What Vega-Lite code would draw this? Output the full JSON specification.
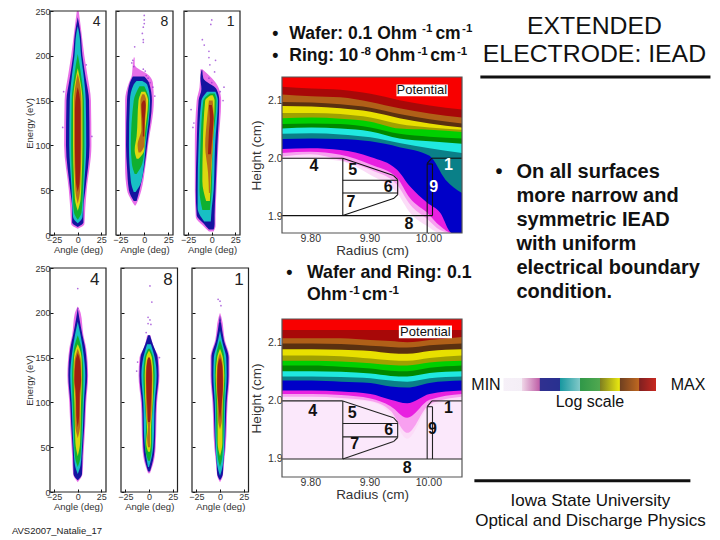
{
  "$schema": "https://vega.github.io/schema/vega-lite/v6.json",
  "width": 720,
  "height": 540,
  "padding": 0,
  "autosize": {"type": "none"},
  "background": "white",
  "config": {
    "view": {"stroke": null},
    "font": "Liberation Sans",
    "text": {"baseline": "middle"},
    "axis": {"grid": false, "labelColor": "#333", "titleColor": "#333", "tickColor": "#111", "domain": false, "labelFontSize": 9, "titleFontSize": 9.5, "titleFontWeight": "normal", "tickSize": -3, "labelPadding": 3, "titlePadding": 0}
  },
  "data": {"values": [{"k": 0}]},
  "datasets": {
    "iead": [
      {"p":"A","l":"p","e":7,"a":0,"b":0},{"p":"A","l":"p","e":12,"a":-7,"b":7},{"p":"A","l":"p","e":30,"a":-8,"b":8},{"p":"A","l":"p","e":50,"a":-9.5,"b":9.5},{"p":"A","l":"p","e":100,"a":-14.5,"b":14.5},{"p":"A","l":"p","e":150,"a":-14,"b":14},{"p":"A","l":"p","e":180,"a":-10,"b":10},{"p":"A","l":"p","e":200,"a":-7,"b":7},{"p":"A","l":"p","e":230,"a":-3.5,"b":3.5},{"p":"A","l":"p","e":250,"a":-1,"b":1},
      {"p":"A","l":"b","e":9,"a":0,"b":0},{"p":"A","l":"b","e":14,"a":-6,"b":6},{"p":"A","l":"b","e":30,"a":-6,"b":6},{"p":"A","l":"b","e":50,"a":-8,"b":8},{"p":"A","l":"b","e":100,"a":-12.5,"b":12.5},{"p":"A","l":"b","e":150,"a":-12,"b":12},{"p":"A","l":"b","e":175,"a":-8.5,"b":8.5},{"p":"A","l":"b","e":200,"a":-5,"b":5},{"p":"A","l":"b","e":225,"a":-3,"b":3},{"p":"A","l":"b","e":243,"a":0,"b":0},
      {"p":"A","l":"c","e":13,"a":0,"b":0},{"p":"A","l":"c","e":20,"a":-5,"b":5},{"p":"A","l":"c","e":50,"a":-6.5,"b":6.5},{"p":"A","l":"c","e":100,"a":-9,"b":9},{"p":"A","l":"c","e":150,"a":-8.5,"b":8.5},{"p":"A","l":"c","e":180,"a":-6,"b":6},{"p":"A","l":"c","e":200,"a":-3.5,"b":3.5},{"p":"A","l":"c","e":225,"a":-1.5,"b":1.5},{"p":"A","l":"c","e":233,"a":0,"b":0},
      {"p":"A","l":"g","e":17,"a":0,"b":0},{"p":"A","l":"g","e":25,"a":-4,"b":4},{"p":"A","l":"g","e":50,"a":-5.5,"b":5.5},{"p":"A","l":"g","e":100,"a":-7,"b":7},{"p":"A","l":"g","e":150,"a":-6.5,"b":6.5},{"p":"A","l":"g","e":175,"a":-4,"b":4},{"p":"A","l":"g","e":190,"a":-2,"b":2},{"p":"A","l":"g","e":202,"a":0,"b":0},
      {"p":"A","l":"y","e":27,"a":0,"b":0},{"p":"A","l":"y","e":40,"a":-3,"b":3},{"p":"A","l":"y","e":60,"a":-4,"b":4},{"p":"A","l":"y","e":100,"a":-5,"b":5},{"p":"A","l":"y","e":150,"a":-5,"b":5},{"p":"A","l":"y","e":170,"a":-3,"b":3},{"p":"A","l":"y","e":186,"a":0,"b":0},
      {"p":"A","l":"o","e":35,"a":0,"b":0},{"p":"A","l":"o","e":50,"a":-2.5,"b":2.5},{"p":"A","l":"o","e":100,"a":-3.8,"b":3.8},{"p":"A","l":"o","e":150,"a":-3.8,"b":3.8},{"p":"A","l":"o","e":170,"a":-2,"b":2},{"p":"A","l":"o","e":180,"a":0,"b":0},
      {"p":"A","l":"r","e":48,"a":0,"b":0},{"p":"A","l":"r","e":60,"a":-2,"b":2},{"p":"A","l":"r","e":100,"a":-3,"b":3},{"p":"A","l":"r","e":140,"a":-3,"b":3},{"p":"A","l":"r","e":158,"a":-1.5,"b":1.5},{"p":"A","l":"r","e":165,"a":0,"b":0},

      {"p":"B","l":"p","e":33,"a":-10,"b":-9},{"p":"B","l":"p","e":40,"a":-14,"b":-6},{"p":"B","l":"p","e":50,"a":-18,"b":-3},{"p":"B","l":"p","e":75,"a":-20,"b":1},{"p":"B","l":"p","e":100,"a":-20,"b":4},{"p":"B","l":"p","e":150,"a":-20,"b":10},{"p":"B","l":"p","e":170,"a":-16,"b":9},{"p":"B","l":"p","e":178,"a":-13,"b":5},{"p":"B","l":"p","e":190,"a":-12,"b":-10},{"p":"B","l":"p","e":198,"a":-11,"b":-10},
      {"p":"B","l":"b","e":38,"a":-11,"b":-8},{"p":"B","l":"b","e":50,"a":-16,"b":-5},{"p":"B","l":"b","e":75,"a":-18,"b":0},{"p":"B","l":"b","e":100,"a":-19,"b":3},{"p":"B","l":"b","e":150,"a":-18,"b":8},{"p":"B","l":"b","e":170,"a":-15,"b":5},{"p":"B","l":"b","e":177,"a":-12,"b":0},
      {"p":"B","l":"c","e":48,"a":-11,"b":-9},{"p":"B","l":"c","e":60,"a":-14,"b":-3},{"p":"B","l":"c","e":100,"a":-16,"b":1.5},{"p":"B","l":"c","e":150,"a":-15,"b":6},{"p":"B","l":"c","e":168,"a":-11,"b":3},{"p":"B","l":"c","e":172,"a":-8,"b":-2},
      {"p":"B","l":"g","e":68,"a":-10,"b":-8},{"p":"B","l":"g","e":80,"a":-13,"b":-2},{"p":"B","l":"g","e":100,"a":-14,"b":0.5},{"p":"B","l":"g","e":150,"a":-11,"b":5},{"p":"B","l":"g","e":166,"a":-5,"b":0},
      {"p":"B","l":"y","e":85,"a":-8,"b":-6},{"p":"B","l":"y","e":95,"a":-10,"b":0},{"p":"B","l":"y","e":110,"a":-8,"b":0.5},{"p":"B","l":"y","e":150,"a":-6,"b":4},{"p":"B","l":"y","e":160,"a":-3,"b":1},
      {"p":"B","l":"o","e":92,"a":-6,"b":-4},{"p":"B","l":"o","e":100,"a":-7,"b":0},{"p":"B","l":"o","e":118,"a":-3,"b":0.5},{"p":"B","l":"o","e":150,"a":-4,"b":2},{"p":"B","l":"o","e":157,"a":-2,"b":0},
      {"p":"B","l":"r","e":110,"a":-1.5,"b":0},{"p":"B","l":"r","e":128,"a":-2,"b":0.5},{"p":"B","l":"r","e":145,"a":-3,"b":1.5},{"p":"B","l":"r","e":150,"a":-1,"b":0.5},

      {"p":"C","l":"p","e":4,"a":-3,"b":2},{"p":"C","l":"p","e":10,"a":-9,"b":4},{"p":"C","l":"p","e":20,"a":-17,"b":4},{"p":"C","l":"p","e":50,"a":-18,"b":5},{"p":"C","l":"p","e":100,"a":-18,"b":7},{"p":"C","l":"p","e":150,"a":-16,"b":10},{"p":"C","l":"p","e":165,"a":-13,"b":7},{"p":"C","l":"p","e":185,"a":-12,"b":-10},
      {"p":"C","l":"b","e":6,"a":-3,"b":2},{"p":"C","l":"b","e":12,"a":-8,"b":3},{"p":"C","l":"b","e":22,"a":-16,"b":3},{"p":"C","l":"b","e":50,"a":-17,"b":4},{"p":"C","l":"b","e":100,"a":-16,"b":6},{"p":"C","l":"b","e":150,"a":-14,"b":8},{"p":"C","l":"b","e":163,"a":-11,"b":5},{"p":"C","l":"b","e":175,"a":-12,"b":-9},{"p":"C","l":"b","e":184,"a":-11,"b":-10},
      {"p":"C","l":"c","e":15,"a":-8,"b":-1},{"p":"C","l":"c","e":30,"a":-15,"b":0},{"p":"C","l":"c","e":50,"a":-15,"b":2},{"p":"C","l":"c","e":100,"a":-14,"b":3.5},{"p":"C","l":"c","e":150,"a":-11,"b":6.5},{"p":"C","l":"c","e":160,"a":-5,"b":4},
      {"p":"C","l":"g","e":28,"a":-10,"b":-2},{"p":"C","l":"g","e":50,"a":-13,"b":0},{"p":"C","l":"g","e":100,"a":-12,"b":1},{"p":"C","l":"g","e":150,"a":-9,"b":5},{"p":"C","l":"g","e":158,"a":-2,"b":3},
      {"p":"C","l":"y","e":38,"a":-6,"b":-2},{"p":"C","l":"y","e":60,"a":-10,"b":-1},{"p":"C","l":"y","e":100,"a":-9.5,"b":1},{"p":"C","l":"y","e":150,"a":-7,"b":3},{"p":"C","l":"y","e":156,"a":-1,"b":1},
      {"p":"C","l":"o","e":47,"a":-3,"b":-2},{"p":"C","l":"o","e":70,"a":-4,"b":-1},{"p":"C","l":"o","e":100,"a":-7,"b":1},{"p":"C","l":"o","e":130,"a":-5,"b":2},{"p":"C","l":"o","e":150,"a":-3,"b":1},
      {"p":"C","l":"r","e":90,"a":-4,"b":-1},{"p":"C","l":"r","e":115,"a":-3,"b":1},{"p":"C","l":"r","e":130,"a":-2,"b":2},{"p":"C","l":"r","e":145,"a":-3,"b":0},

      {"p":"D","l":"p","e":11,"a":0,"b":0},{"p":"D","l":"p","e":20,"a":-5,"b":5},{"p":"D","l":"p","e":40,"a":-6,"b":6},{"p":"D","l":"p","e":75,"a":-8,"b":8},{"p":"D","l":"p","e":100,"a":-9,"b":9},{"p":"D","l":"p","e":130,"a":-11,"b":11},{"p":"D","l":"p","e":160,"a":-9,"b":9},{"p":"D","l":"p","e":175,"a":-6,"b":6},{"p":"D","l":"p","e":200,"a":-3,"b":3},{"p":"D","l":"p","e":207,"a":0,"b":0},
      {"p":"D","l":"b","e":13,"a":0,"b":0},{"p":"D","l":"b","e":20,"a":-4.5,"b":4.5},{"p":"D","l":"b","e":40,"a":-5,"b":5},{"p":"D","l":"b","e":75,"a":-7,"b":7},{"p":"D","l":"b","e":100,"a":-8,"b":8},{"p":"D","l":"b","e":130,"a":-10,"b":10},{"p":"D","l":"b","e":160,"a":-8,"b":8},{"p":"D","l":"b","e":175,"a":-5,"b":5},{"p":"D","l":"b","e":195,"a":-1.5,"b":1.5},{"p":"D","l":"b","e":205,"a":0,"b":0},
      {"p":"D","l":"c","e":20,"a":0,"b":0},{"p":"D","l":"c","e":30,"a":-3,"b":3},{"p":"D","l":"c","e":50,"a":-4.5,"b":4.5},{"p":"D","l":"c","e":100,"a":-6.5,"b":6.5},{"p":"D","l":"c","e":130,"a":-8,"b":8},{"p":"D","l":"c","e":155,"a":-6,"b":6},{"p":"D","l":"c","e":175,"a":-3,"b":3},{"p":"D","l":"c","e":190,"a":0,"b":0},
      {"p":"D","l":"g","e":28,"a":0,"b":0},{"p":"D","l":"g","e":40,"a":-3,"b":3},{"p":"D","l":"g","e":75,"a":-4.5,"b":4.5},{"p":"D","l":"g","e":130,"a":-6,"b":6},{"p":"D","l":"g","e":150,"a":-5,"b":5},{"p":"D","l":"g","e":165,"a":-3,"b":3},{"p":"D","l":"g","e":175,"a":0,"b":0},
      {"p":"D","l":"y","e":40,"a":0,"b":0},{"p":"D","l":"y","e":55,"a":-2.5,"b":2.5},{"p":"D","l":"y","e":100,"a":-3.5,"b":3.5},{"p":"D","l":"y","e":130,"a":-4.5,"b":4.5},{"p":"D","l":"y","e":150,"a":-4,"b":4},{"p":"D","l":"y","e":160,"a":-2,"b":2},{"p":"D","l":"y","e":165,"a":0,"b":0},
      {"p":"D","l":"o","e":60,"a":0,"b":0},{"p":"D","l":"o","e":75,"a":-2.5,"b":2.5},{"p":"D","l":"o","e":100,"a":-2.5,"b":2.5},{"p":"D","l":"o","e":125,"a":-4,"b":4},{"p":"D","l":"o","e":145,"a":-3.5,"b":3.5},{"p":"D","l":"o","e":160,"a":0,"b":0},
      {"p":"D","l":"r","e":72,"a":0,"b":0},{"p":"D","l":"r","e":85,"a":-1.5,"b":1.5},{"p":"D","l":"r","e":110,"a":-2,"b":2},{"p":"D","l":"r","e":125,"a":-3.5,"b":3.5},{"p":"D","l":"r","e":145,"a":-2.5,"b":2.5},{"p":"D","l":"r","e":155,"a":0,"b":0},

      {"p":"E","l":"p","e":21,"a":-1,"b":1},{"p":"E","l":"p","e":30,"a":-4,"b":4},{"p":"E","l":"p","e":50,"a":-7,"b":7},{"p":"E","l":"p","e":100,"a":-8.5,"b":8.5},{"p":"E","l":"p","e":130,"a":-11,"b":11},{"p":"E","l":"p","e":150,"a":-10,"b":10},{"p":"E","l":"p","e":162,"a":-5,"b":5},{"p":"E","l":"p","e":175,"a":-2,"b":1.5},
      {"p":"E","l":"b","e":23,"a":-1,"b":1},{"p":"E","l":"b","e":30,"a":-3,"b":3},{"p":"E","l":"b","e":50,"a":-6,"b":6},{"p":"E","l":"b","e":100,"a":-7.5,"b":7.5},{"p":"E","l":"b","e":130,"a":-10,"b":10},{"p":"E","l":"b","e":150,"a":-9,"b":9},{"p":"E","l":"b","e":165,"a":-4,"b":4},{"p":"E","l":"b","e":175,"a":-1,"b":1},
      {"p":"E","l":"c","e":28,"a":-1,"b":0},{"p":"E","l":"c","e":40,"a":-3,"b":3},{"p":"E","l":"c","e":60,"a":-5,"b":5},{"p":"E","l":"c","e":100,"a":-6,"b":6},{"p":"E","l":"c","e":130,"a":-8,"b":8},{"p":"E","l":"c","e":150,"a":-6,"b":6},{"p":"E","l":"c","e":165,"a":-2,"b":2},
      {"p":"E","l":"g","e":35,"a":-1,"b":1},{"p":"E","l":"g","e":50,"a":-4,"b":3},{"p":"E","l":"g","e":75,"a":-3,"b":3},{"p":"E","l":"g","e":100,"a":-4.5,"b":4.5},{"p":"E","l":"g","e":130,"a":-6,"b":6},{"p":"E","l":"g","e":150,"a":-4.5,"b":4.5},{"p":"E","l":"g","e":160,"a":-1,"b":1},
      {"p":"E","l":"y","e":45,"a":-1,"b":1},{"p":"E","l":"y","e":55,"a":-3,"b":2},{"p":"E","l":"y","e":70,"a":-2,"b":2},{"p":"E","l":"y","e":85,"a":-3,"b":3},{"p":"E","l":"y","e":130,"a":-4.5,"b":4.5},{"p":"E","l":"y","e":150,"a":-3,"b":3},{"p":"E","l":"y","e":158,"a":0,"b":0},
      {"p":"E","l":"o","e":50,"a":-1,"b":1},{"p":"E","l":"o","e":60,"a":-2,"b":1},{"p":"E","l":"o","e":72,"a":-1,"b":1},{"p":"E","l":"o","e":85,"a":-2.5,"b":2.5},{"p":"E","l":"o","e":130,"a":-3.5,"b":3.5},{"p":"E","l":"o","e":148,"a":-2,"b":2},
      {"p":"E","l":"r","e":78,"a":-1,"b":1},{"p":"E","l":"r","e":100,"a":-2,"b":2},{"p":"E","l":"r","e":125,"a":-3,"b":3},{"p":"E","l":"r","e":140,"a":-2.5,"b":2.5},{"p":"E","l":"r","e":150,"a":-1,"b":1},

      {"p":"F","l":"p","e":11,"a":0,"b":0},{"p":"F","l":"p","e":18,"a":-3,"b":3},{"p":"F","l":"p","e":30,"a":-4,"b":4},{"p":"F","l":"p","e":50,"a":-6,"b":6},{"p":"F","l":"p","e":100,"a":-8,"b":8},{"p":"F","l":"p","e":130,"a":-10,"b":10},{"p":"F","l":"p","e":150,"a":-10,"b":10},{"p":"F","l":"p","e":170,"a":-5,"b":5},{"p":"F","l":"p","e":195,"a":-1.5,"b":1.5},{"p":"F","l":"p","e":200,"a":0,"b":0},
      {"p":"F","l":"b","e":13,"a":0,"b":0},{"p":"F","l":"b","e":20,"a":-3,"b":3},{"p":"F","l":"b","e":30,"a":-3.5,"b":3.5},{"p":"F","l":"b","e":50,"a":-5,"b":5},{"p":"F","l":"b","e":100,"a":-7,"b":7},{"p":"F","l":"b","e":130,"a":-9,"b":9},{"p":"F","l":"b","e":150,"a":-9,"b":9},{"p":"F","l":"b","e":170,"a":-4,"b":4},{"p":"F","l":"b","e":190,"a":-1,"b":1},{"p":"F","l":"b","e":197,"a":0,"b":0},
      {"p":"F","l":"c","e":18,"a":0,"b":0},{"p":"F","l":"c","e":30,"a":-3,"b":3},{"p":"F","l":"c","e":50,"a":-4.5,"b":4.5},{"p":"F","l":"c","e":100,"a":-5.5,"b":5.5},{"p":"F","l":"c","e":130,"a":-7,"b":7},{"p":"F","l":"c","e":150,"a":-6.5,"b":6.5},{"p":"F","l":"c","e":165,"a":-3,"b":3},{"p":"F","l":"c","e":180,"a":0,"b":0},
      {"p":"F","l":"g","e":28,"a":0,"b":0},{"p":"F","l":"g","e":40,"a":-2.5,"b":2.5},{"p":"F","l":"g","e":75,"a":-4,"b":4},{"p":"F","l":"g","e":100,"a":-4.5,"b":4.5},{"p":"F","l":"g","e":130,"a":-5.5,"b":5.5},{"p":"F","l":"g","e":150,"a":-4.5,"b":4.5},{"p":"F","l":"g","e":165,"a":-1.5,"b":1.5},{"p":"F","l":"g","e":170,"a":0,"b":0},
      {"p":"F","l":"y","e":40,"a":0,"b":0},{"p":"F","l":"y","e":55,"a":-2.5,"b":2.5},{"p":"F","l":"y","e":75,"a":-2.5,"b":2.5},{"p":"F","l":"y","e":100,"a":-3,"b":3},{"p":"F","l":"y","e":130,"a":-4.5,"b":4.5},{"p":"F","l":"y","e":150,"a":-3,"b":3},{"p":"F","l":"y","e":160,"a":0,"b":0},
      {"p":"F","l":"o","e":70,"a":0,"b":0},{"p":"F","l":"o","e":80,"a":-2,"b":2},{"p":"F","l":"o","e":100,"a":-2.5,"b":2.5},{"p":"F","l":"o","e":125,"a":-3.5,"b":3.5},{"p":"F","l":"o","e":145,"a":-2.5,"b":2.5},{"p":"F","l":"o","e":155,"a":0,"b":0},
      {"p":"F","l":"r","e":80,"a":0,"b":0},{"p":"F","l":"r","e":95,"a":-1.5,"b":1.5},{"p":"F","l":"r","e":120,"a":-3,"b":3},{"p":"F","l":"r","e":140,"a":-2.5,"b":2.5},{"p":"F","l":"r","e":150,"a":0,"b":0}
    ],
    "speck": [
      {"p":"A","e":160,"a":-15},{"p":"A","e":120,"a":-16},{"p":"A","e":110,"a":15},{"p":"A","e":190,"a":9},
      {"p":"B","e":195,"a":-12},{"p":"B","e":192,"a":-13},{"p":"B","e":188,"a":-11},{"p":"B","e":185,"a":-1},{"p":"B","e":183,"a":1},{"p":"B","e":178,"a":2},{"p":"B","e":175,"a":4},{"p":"B","e":170,"a":6},{"p":"B","e":165,"a":9},{"p":"B","e":155,"a":11},{"p":"B","e":218,"a":-1},{"p":"B","e":215,"a":-1},{"p":"B","e":232,"a":-1},{"p":"B","e":240,"a":0},{"p":"B","e":245,"a":0},{"p":"B","e":236,"a":0},{"p":"B","e":225,"a":-2},{"p":"B","e":210,"a":-10},
      {"p":"C","e":218,"a":-10},{"p":"C","e":212,"a":-8},{"p":"C","e":205,"a":-3},{"p":"C","e":198,"a":-3},{"p":"C","e":190,"a":-2},{"p":"C","e":175,"a":-3},{"p":"C","e":170,"a":0},{"p":"C","e":160,"a":9},{"p":"C","e":150,"a":12},{"p":"C","e":140,"a":-22},{"p":"C","e":125,"a":-19},{"p":"C","e":120,"a":-20},{"p":"C","e":165,"a":13},{"p":"C","e":240,"a":0},{"p":"C","e":235,"a":-1},{"p":"C","e":195,"a":4},{"p":"C","e":182,"a":3},
      {"p":"D","e":227,"a":0},{"p":"D","e":205,"a":0},
      {"p":"E","e":230,"a":1},{"p":"E","e":212,"a":3},{"p":"E","e":195,"a":-1},{"p":"E","e":192,"a":1},{"p":"E","e":188,"a":-1},{"p":"E","e":187,"a":2},{"p":"E","e":178,"a":-3},{"p":"E","e":145,"a":-12},{"p":"E","e":135,"a":-13},{"p":"E","e":150,"a":11},
      {"p":"F","e":215,"a":-2},{"p":"F","e":213,"a":0},{"p":"F","e":208,"a":1},{"p":"F","e":190,"a":0}
    ],
    "tags": [
      {"p":"A","t":"4","a":20,"e":238},{"p":"B","t":"8","a":21,"e":238},{"p":"C","t":"1","a":20,"e":238},
      {"p":"D","t":"4","a":18,"e":237},{"p":"E","t":"8","a":20,"e":237},{"p":"F","t":"1","a":20,"e":237}
    ],
    "bands": [
      {"p":"T","b":"a","r":9.752,"h":2.14},{"p":"T","b":"a","r":10.057,"h":2.14},
      {"p":"T","b":"b","r":9.752,"h":2.123},{"p":"T","b":"b","r":9.802,"h":2.12},{"p":"T","b":"b","r":9.851,"h":2.118},{"p":"T","b":"b","r":9.902,"h":2.111},{"p":"T","b":"b","r":9.951,"h":2.1},{"p":"T","b":"b","r":10.002,"h":2.091},{"p":"T","b":"b","r":10.057,"h":2.084},
      {"p":"T","b":"c","r":9.752,"h":2.11},{"p":"T","b":"c","r":9.802,"h":2.107},{"p":"T","b":"c","r":9.851,"h":2.105},{"p":"T","b":"c","r":9.902,"h":2.097},{"p":"T","b":"c","r":9.951,"h":2.086},{"p":"T","b":"c","r":10.002,"h":2.077},{"p":"T","b":"c","r":10.057,"h":2.07},
      {"p":"T","b":"d","r":9.752,"h":2.097},{"p":"T","b":"d","r":9.802,"h":2.096},{"p":"T","b":"d","r":9.851,"h":2.093},{"p":"T","b":"d","r":9.902,"h":2.087},{"p":"T","b":"d","r":9.951,"h":2.076},{"p":"T","b":"d","r":10.002,"h":2.067},{"p":"T","b":"d","r":10.057,"h":2.06},
      {"p":"T","b":"e","r":9.752,"h":2.09},{"p":"T","b":"e","r":9.802,"h":2.089},{"p":"T","b":"e","r":9.851,"h":2.086},{"p":"T","b":"e","r":9.902,"h":2.08},{"p":"T","b":"e","r":9.951,"h":2.069},{"p":"T","b":"e","r":10.002,"h":2.06},{"p":"T","b":"e","r":10.057,"h":2.053},
      {"p":"T","b":"f","r":9.752,"h":2.078},{"p":"T","b":"f","r":9.802,"h":2.078},{"p":"T","b":"f","r":9.851,"h":2.076},{"p":"T","b":"f","r":9.902,"h":2.07},{"p":"T","b":"f","r":9.951,"h":2.059},{"p":"T","b":"f","r":10.002,"h":2.053},{"p":"T","b":"f","r":10.057,"h":2.049},
      {"p":"T","b":"g","r":9.752,"h":2.069},{"p":"T","b":"g","r":9.802,"h":2.07},{"p":"T","b":"g","r":9.851,"h":2.068},{"p":"T","b":"g","r":9.902,"h":2.063},{"p":"T","b":"g","r":9.951,"h":2.051},{"p":"T","b":"g","r":10.002,"h":2.049},{"p":"T","b":"g","r":10.057,"h":2.045},
      {"p":"T","b":"h","r":9.752,"h":2.059},{"p":"T","b":"h","r":9.802,"h":2.06},{"p":"T","b":"h","r":9.851,"h":2.059},{"p":"T","b":"h","r":9.902,"h":2.053},{"p":"T","b":"h","r":9.951,"h":2.042},{"p":"T","b":"h","r":10.002,"h":2.037},{"p":"T","b":"h","r":10.057,"h":2.034},
      {"p":"T","b":"i","r":9.752,"h":2.051},{"p":"T","b":"i","r":9.802,"h":2.053},{"p":"T","b":"i","r":9.851,"h":2.051},{"p":"T","b":"i","r":9.902,"h":2.046},{"p":"T","b":"i","r":9.951,"h":2.034},{"p":"T","b":"i","r":10.002,"h":2.029},{"p":"T","b":"i","r":10.057,"h":2.025},
      {"p":"T","b":"j","r":9.752,"h":2.042},{"p":"T","b":"j","r":9.802,"h":2.043},{"p":"T","b":"j","r":9.851,"h":2.041},{"p":"T","b":"j","r":9.902,"h":2.036},{"p":"T","b":"j","r":9.951,"h":2.026},{"p":"T","b":"j","r":10.002,"h":2.017},{"p":"T","b":"j","r":10.057,"h":2.009},
      {"p":"T","b":"k","r":9.752,"h":2.033},{"p":"T","b":"k","r":9.802,"h":2.034},{"p":"T","b":"k","r":9.851,"h":2.033},{"p":"T","b":"k","r":9.902,"h":2.029},{"p":"T","b":"k","r":9.951,"h":2.019},{"p":"T","b":"k","r":10.002,"h":2.004},{"p":"T","b":"k","r":10.029,"h":1.963},{"p":"T","b":"k","r":10.057,"h":1.94},
      {"p":"T","b":"l","r":9.752,"h":2.016},{"p":"T","b":"l","r":9.8,"h":2.017},{"p":"T","b":"l","r":9.851,"h":2.014},{"p":"T","b":"l","r":9.902,"h":2.002},{"p":"T","b":"l","r":9.947,"h":1.98},{"p":"T","b":"l","r":9.969,"h":1.951},{"p":"T","b":"l","r":9.998,"h":1.923},{"p":"T","b":"l","r":10.02,"h":1.906},{"p":"T","b":"l","r":10.04,"h":1.871},{"p":"T","b":"l","r":10.057,"h":1.871},
      {"p":"T","b":"m","r":9.752,"h":2.009},{"p":"T","b":"m","r":9.8,"h":2.011},{"p":"T","b":"m","r":9.851,"h":2.006},{"p":"T","b":"m","r":9.902,"h":1.989},{"p":"T","b":"m","r":9.947,"h":1.966},{"p":"T","b":"m","r":9.969,"h":1.931},{"p":"T","b":"m","r":9.998,"h":1.906},{"p":"T","b":"m","r":10.02,"h":1.883},{"p":"T","b":"m","r":10.04,"h":1.871},{"p":"T","b":"m","r":10.057,"h":1.871},
      {"p":"T","b":"n","r":9.752,"h":2.003},{"p":"T","b":"n","r":9.8,"h":2.007},{"p":"T","b":"n","r":9.851,"h":1.997},{"p":"T","b":"n","r":9.902,"h":1.98},{"p":"T","b":"n","r":9.947,"h":1.954},{"p":"T","b":"n","r":9.969,"h":1.92},{"p":"T","b":"n","r":9.998,"h":1.895},{"p":"T","b":"n","r":10.02,"h":1.876},{"p":"T","b":"n","r":10.04,"h":1.871},{"p":"T","b":"n","r":10.057,"h":1.871},
      {"p":"T","b":"p","r":9.752,"h":2.0},{"p":"T","b":"p","r":9.8,"h":2.0},{"p":"T","b":"p","r":9.851,"h":1.995},{"p":"T","b":"p","r":9.902,"h":1.971},{"p":"T","b":"p","r":9.947,"h":1.94},{"p":"T","b":"p","r":9.969,"h":1.906},{"p":"T","b":"p","r":9.998,"h":1.883},{"p":"T","b":"p","r":10.02,"h":1.871},{"p":"T","b":"p","r":10.057,"h":1.871},

      {"p":"B","b":"a","r":9.752,"h":2.141},{"p":"B","b":"a","r":10.057,"h":2.141},
      {"p":"B","b":"b","r":9.752,"h":2.122},{"p":"B","b":"b","r":10.057,"h":2.122},
      {"p":"B","b":"c","r":9.752,"h":2.108},{"p":"B","b":"c","r":9.802,"h":2.108},{"p":"B","b":"c","r":9.852,"h":2.108},{"p":"B","b":"c","r":9.902,"h":2.105},{"p":"B","b":"c","r":9.936,"h":2.103},{"p":"B","b":"c","r":9.964,"h":2.101},{"p":"B","b":"c","r":10.002,"h":2.105},{"p":"B","b":"c","r":10.057,"h":2.11},
      {"p":"B","b":"d","r":9.752,"h":2.099},{"p":"B","b":"d","r":9.802,"h":2.099},{"p":"B","b":"d","r":9.852,"h":2.098},{"p":"B","b":"d","r":9.902,"h":2.095},{"p":"B","b":"d","r":9.936,"h":2.093},{"p":"B","b":"d","r":9.964,"h":2.092},{"p":"B","b":"d","r":10.002,"h":2.096},{"p":"B","b":"d","r":10.057,"h":2.099},
      {"p":"B","b":"e","r":9.752,"h":2.089},{"p":"B","b":"e","r":9.802,"h":2.089},{"p":"B","b":"e","r":9.852,"h":2.088},{"p":"B","b":"e","r":9.902,"h":2.086},{"p":"B","b":"e","r":9.936,"h":2.082},{"p":"B","b":"e","r":9.964,"h":2.081},{"p":"B","b":"e","r":10.002,"h":2.086},{"p":"B","b":"e","r":10.057,"h":2.089},
      {"p":"B","b":"f","r":9.752,"h":2.078},{"p":"B","b":"f","r":9.802,"h":2.078},{"p":"B","b":"f","r":9.852,"h":2.077},{"p":"B","b":"f","r":9.902,"h":2.073},{"p":"B","b":"f","r":9.936,"h":2.07},{"p":"B","b":"f","r":9.964,"h":2.069},{"p":"B","b":"f","r":10.002,"h":2.074},{"p":"B","b":"f","r":10.057,"h":2.078},
      {"p":"B","b":"g","r":9.752,"h":2.069},{"p":"B","b":"g","r":9.802,"h":2.069},{"p":"B","b":"g","r":9.852,"h":2.068},{"p":"B","b":"g","r":9.902,"h":2.065},{"p":"B","b":"g","r":9.936,"h":2.062},{"p":"B","b":"g","r":9.964,"h":2.061},{"p":"B","b":"g","r":10.002,"h":2.066},{"p":"B","b":"g","r":10.057,"h":2.069},
      {"p":"B","b":"h","r":9.752,"h":2.061},{"p":"B","b":"h","r":9.802,"h":2.061},{"p":"B","b":"h","r":9.852,"h":2.059},{"p":"B","b":"h","r":9.902,"h":2.056},{"p":"B","b":"h","r":9.936,"h":2.052},{"p":"B","b":"h","r":9.964,"h":2.051},{"p":"B","b":"h","r":10.002,"h":2.057},{"p":"B","b":"h","r":10.057,"h":2.061},
      {"p":"B","b":"i","r":9.752,"h":2.051},{"p":"B","b":"i","r":9.802,"h":2.051},{"p":"B","b":"i","r":9.852,"h":2.05},{"p":"B","b":"i","r":9.902,"h":2.047},{"p":"B","b":"i","r":9.936,"h":2.043},{"p":"B","b":"i","r":9.964,"h":2.042},{"p":"B","b":"i","r":10.002,"h":2.048},{"p":"B","b":"i","r":10.057,"h":2.051},
      {"p":"B","b":"j","r":9.752,"h":2.042},{"p":"B","b":"j","r":9.802,"h":2.042},{"p":"B","b":"j","r":9.852,"h":2.041},{"p":"B","b":"j","r":9.902,"h":2.039},{"p":"B","b":"j","r":9.936,"h":2.035},{"p":"B","b":"j","r":9.964,"h":2.033},{"p":"B","b":"j","r":10.002,"h":2.039},{"p":"B","b":"j","r":10.057,"h":2.042},
      {"p":"B","b":"k","r":9.752,"h":2.035},{"p":"B","b":"k","r":9.802,"h":2.035},{"p":"B","b":"k","r":9.852,"h":2.033},{"p":"B","b":"k","r":9.902,"h":2.031},{"p":"B","b":"k","r":9.936,"h":2.025},{"p":"B","b":"k","r":9.964,"h":2.023},{"p":"B","b":"k","r":10.002,"h":2.031},{"p":"B","b":"k","r":10.057,"h":2.035},
      {"p":"B","b":"l","r":9.752,"h":2.018},{"p":"B","b":"l","r":9.802,"h":2.018},{"p":"B","b":"l","r":9.852,"h":2.016},{"p":"B","b":"l","r":9.902,"h":2.012},{"p":"B","b":"l","r":9.936,"h":2.002},{"p":"B","b":"l","r":9.964,"h":1.996},{"p":"B","b":"l","r":10.002,"h":2.012},{"p":"B","b":"l","r":10.057,"h":2.018},
      {"p":"B","b":"m","r":9.752,"h":2.012},{"p":"B","b":"m","r":9.802,"h":2.012},{"p":"B","b":"m","r":9.852,"h":2.01},{"p":"B","b":"m","r":9.902,"h":2.004},{"p":"B","b":"m","r":9.936,"h":1.991},{"p":"B","b":"m","r":9.964,"h":1.971},{"p":"B","b":"m","r":10.002,"h":2.002},{"p":"B","b":"m","r":10.057,"h":2.012},
      {"p":"B","b":"n","r":9.752,"h":2.007},{"p":"B","b":"n","r":9.802,"h":2.007},{"p":"B","b":"n","r":9.852,"h":2.005},{"p":"B","b":"n","r":9.902,"h":2.0},{"p":"B","b":"n","r":9.936,"h":1.983},{"p":"B","b":"n","r":9.964,"h":1.945},{"p":"B","b":"n","r":10.002,"h":1.994},{"p":"B","b":"n","r":10.057,"h":2.007},
      {"p":"B","b":"o","r":9.752,"h":2.003},{"p":"B","b":"o","r":9.802,"h":2.003},{"p":"B","b":"o","r":9.852,"h":2.002},{"p":"B","b":"o","r":9.902,"h":1.998},{"p":"B","b":"o","r":9.936,"h":1.978},{"p":"B","b":"o","r":9.964,"h":1.935},{"p":"B","b":"o","r":10.002,"h":1.99},{"p":"B","b":"o","r":10.057,"h":2.003},
      {"p":"B","b":"p","r":9.752,"h":1.9},{"p":"B","b":"p","r":10.057,"h":1.9}
    ],
    "electrode": [
      {"p":"T","r":9.752,"r2":9.855,"h":2.0,"h2":2.0},{"p":"T","r":9.855,"r2":9.855,"h":2.0,"h2":1.901},{"p":"T","r":9.752,"r2":10.007,"h":1.901,"h2":1.901},
      {"p":"T","r":9.855,"r2":9.941,"h":2.0,"h2":1.97},{"p":"T","r":9.941,"r2":9.948,"h":1.97,"h2":1.963},{"p":"T","r":9.948,"r2":9.948,"h":1.963,"h2":1.937},{"p":"T","r":9.948,"r2":9.942,"h":1.937,"h2":1.931},{"p":"T","r":9.942,"r2":9.855,"h":1.931,"h2":1.901},
      {"p":"T","r":9.855,"r2":9.948,"h":1.962,"h2":1.962},{"p":"T","r":9.855,"r2":9.948,"h":1.94,"h2":1.94},
      {"p":"T","r":10.057,"r2":10.006,"h":2.0,"h2":2.0},{"p":"T","r":10.006,"r2":9.998,"h":2.0,"h2":1.991},{"p":"T","r":9.998,"r2":9.998,"h":1.991,"h2":1.871},
      {"p":"T","r":9.998,"r2":10.007,"h":1.99,"h2":1.99},{"p":"T","r":10.007,"r2":10.007,"h":1.99,"h2":1.901},
      {"p":"B","r":9.752,"r2":9.855,"h":2.0,"h2":2.0},{"p":"B","r":9.855,"r2":9.855,"h":2.0,"h2":1.9},{"p":"B","r":9.752,"r2":10.057,"h":1.9,"h2":1.9},
      {"p":"B","r":9.855,"r2":9.941,"h":2.0,"h2":1.971},{"p":"B","r":9.941,"r2":9.948,"h":1.971,"h2":1.963},{"p":"B","r":9.948,"r2":9.948,"h":1.963,"h2":1.937},{"p":"B","r":9.948,"r2":9.941,"h":1.937,"h2":1.93},{"p":"B","r":9.941,"r2":9.855,"h":1.93,"h2":1.9},
      {"p":"B","r":9.855,"r2":9.948,"h":1.961,"h2":1.961},{"p":"B","r":9.855,"r2":9.948,"h":1.938,"h2":1.938},
      {"p":"B","r":10.057,"r2":10.006,"h":2.0,"h2":2.0},{"p":"B","r":10.006,"r2":9.998,"h":2.0,"h2":1.99},{"p":"B","r":9.998,"r2":9.998,"h":1.99,"h2":1.9},
      {"p":"B","r":9.998,"r2":10.007,"h":1.99,"h2":1.99},{"p":"B","r":10.007,"r2":10.007,"h":1.99,"h2":1.9}
    ],
    "regions": [
      {"p":"T","t":"4","r":9.806,"h":1.986},{"p":"T","t":"5","r":9.872,"h":1.98},{"p":"T","t":"6","r":9.932,"h":1.951},{"p":"T","t":"7","r":9.869,"h":1.925},{"p":"T","t":"8","r":9.967,"h":1.887},{"p":"T","t":"9","r":10.009,"h":1.95},{"p":"T","t":"1","r":10.034,"h":1.989},
      {"p":"B","t":"4","r":9.804,"h":1.983},{"p":"B","t":"5","r":9.871,"h":1.98},{"p":"B","t":"6","r":9.933,"h":1.95},{"p":"B","t":"7","r":9.875,"h":1.926},{"p":"B","t":"8","r":9.964,"h":1.884},{"p":"B","t":"9","r":10.007,"h":1.951},{"p":"B","t":"1","r":10.034,"h":1.987}
    ],
    "notes": [
      {"g":"small","t":"•","r":9.7356,"h":2.2143},{"g":"small","t":"Wafer: 0.1 Ohm","r":9.7644,"h":2.2143},{"g":"sup","t":"-1","r":9.9893,"h":2.2224},{"g":"small","t":"cm","r":10.0119,"h":2.2143},{"g":"sup","t":"-1","r":10.0571,"h":2.2224},
      {"g":"small","t":"•","r":9.7356,"h":2.1755},{"g":"small","t":"Ring: 10","r":9.7644,"h":2.1755},{"g":"sup","t":"-8","r":9.8855,"h":2.1838},{"g":"small","t":"Ohm","r":9.9102,"h":2.1755},{"g":"sup","t":"-1","r":9.9814,"h":2.1838},{"g":"small","t":"cm","r":10.0034,"h":2.1755},{"g":"sup","t":"-1","r":10.0486,"h":2.1838},
      {"g":"mid","t":"•","r":9.7593,"h":1.8028},{"g":"mid","t":"Wafer and Ring: 0.1","r":9.7944,"h":1.8028},{"g":"mid","t":"Ohm","r":9.7944,"h":1.7643},{"g":"msup","t":"-1","r":9.8661,"h":1.7717},{"g":"mid","t":"cm","r":9.8876,"h":1.7643},{"g":"msup","t":"-1","r":9.9327,"h":1.7717},
      {"g":"title","t":"EXTENDED","r":10.2814,"h":2.2264},{"g":"title","t":"ELECTRODE: IEAD","r":10.2814,"h":2.1781},
      {"g":"body","t":"•","r":10.1136,"h":1.9764},{"g":"body","t":"On all surfaces","r":10.1492,"h":1.9764},{"g":"body","t":"more narrow and","r":10.1492,"h":1.935},{"g":"body","t":"symmetric IEAD","r":10.1492,"h":1.8936},{"g":"body","t":"with uniform","r":10.1492,"h":1.8522},{"g":"body","t":"electrical boundary","r":10.1492,"h":1.8109},{"g":"body","t":"condition.","r":10.1492,"h":1.7695},
      {"g":"foot","t":"Iowa State University","r":10.2746,"h":1.4091},{"g":"foot","t":"Optical and Discharge Physics","r":10.2746,"h":1.3746}
    ],
    "rules": [
      {"r":10.0881,"r2":10.478,"h":2.1402},{"r":10.078,"r2":10.444,"h":1.4436}
    ],
    "strip": [
      {"t":"MIN","s":-0.115,"v":0.46},{"t":"MAX","s":1.21,"v":0.46},{"t":"Log scale","s":0.567,"v":-0.85}
    ]
  },
  "resolve": {
    "scale": {"x": "independent", "y": "independent"},
    "axis": {"x": "independent", "y": "independent"}
  },
  "layer": [
    {
      "layer": [
        {
          "data": {"name": "iead"},
          "transform": [{"filter": "datum.p == 'A'"}],
          "mark": {"type": "area", "orient": "horizontal", "interpolate": "monotone"},
          "encoding": {
            "x": {"field": "a", "type": "quantitative", "scale": {"domain": [-29.5, 30], "range": [50, 106], "nice": false, "zero": false}, "axis": null},
            "x2": {"field": "b"},
            "y": {"field": "e", "type": "quantitative", "scale": {"domain": [0, 250], "range": [235, 11], "nice": false}, "axis": null},
            "fill": {"field": "l", "type": "nominal", "legend": null, "scale": {"domain": ["p", "b", "c", "g", "y", "o", "r"], "range": ["#e870e8", "#1414a0", "#18c0c4", "#10b030", "#dcd810", "#b87018", "#a02010"]}}
          }
        },
        {"data": {"name": "speck"}, "transform": [{"filter": "datum.p == 'A'"}], "mark": {"type": "circle", "size": 3, "color": "#9030d0"}, "encoding": {"x": {"field": "a", "type": "quantitative", "axis": null}, "y": {"field": "e", "type": "quantitative", "axis": null}}},
        {"data": {"name": "tags"}, "transform": [{"filter": "datum.p == 'A'"}], "mark": {"type": "text", "fontSize": 14, "color": "#222"}, "encoding": {"x": {"field": "a", "type": "quantitative", "axis": null}, "y": {"field": "e", "type": "quantitative", "axis": null}, "text": {"field": "t"}}}
      ]
    },
    {
      "mark": {"type": "rect", "fill": null, "stroke": "#222", "strokeWidth": 1.2},
      "encoding": {
        "x": {"datum": -29.5, "type": "quantitative", "scale": {"domain": [-29.5, 30], "range": [50, 106], "nice": false, "zero": false}, "axis": {"orient": "bottom", "offset": -305, "values": [-25, 0, 25], "title": "Angle (deg)"}},
        "x2": {"datum": 30},
        "y": {"datum": 0, "type": "quantitative", "scale": {"domain": [0, 250], "range": [235, 11], "nice": false}, "axis": {"orient": "left", "offset": -50, "values": [0, 50, 100, 150, 200, 250], "title": "Energy (eV)", "titlePadding": 0}},
        "y2": {"datum": 250}
      }
    },
    {
      "layer": [
        {
          "data": {"name": "iead"},
          "transform": [{"filter": "datum.p == 'B'"}],
          "mark": {"type": "area", "orient": "horizontal", "interpolate": "monotone"},
          "encoding": {
            "x": {"field": "a", "type": "quantitative", "scale": {"domain": [-29.5, 30], "range": [116, 173], "nice": false, "zero": false}, "axis": null},
            "x2": {"field": "b"},
            "y": {"field": "e", "type": "quantitative", "scale": {"domain": [0, 250], "range": [235, 11], "nice": false}, "axis": null},
            "fill": {"field": "l", "type": "nominal", "legend": null}
          }
        },
        {"data": {"name": "speck"}, "transform": [{"filter": "datum.p == 'B'"}], "mark": {"type": "circle", "size": 3, "color": "#9030d0"}, "encoding": {"x": {"field": "a", "type": "quantitative", "axis": null}, "y": {"field": "e", "type": "quantitative", "axis": null}}},
        {"data": {"name": "tags"}, "transform": [{"filter": "datum.p == 'B'"}], "mark": {"type": "text", "fontSize": 14, "color": "#222"}, "encoding": {"x": {"field": "a", "type": "quantitative", "axis": null}, "y": {"field": "e", "type": "quantitative", "axis": null}, "text": {"field": "t"}}}
      ]
    },
    {
      "mark": {"type": "rect", "fill": null, "stroke": "#222", "strokeWidth": 1.2},
      "encoding": {
        "x": {"datum": -29.5, "type": "quantitative", "scale": {"domain": [-29.5, 30], "range": [116, 173], "nice": false, "zero": false}, "axis": {"orient": "bottom", "offset": -305, "values": [-25, 0, 25], "title": "Angle (deg)"}},
        "x2": {"datum": 30},
        "y": {"datum": 0, "type": "quantitative", "scale": {"domain": [0, 250], "range": [235, 11], "nice": false}, "axis": {"orient": "left", "offset": -116, "values": [0, 50, 100, 150, 200, 250], "labels": false, "title": null}},
        "y2": {"datum": 250}
      }
    },
    {
      "layer": [
        {
          "data": {"name": "iead"},
          "transform": [{"filter": "datum.p == 'C'"}],
          "mark": {"type": "area", "orient": "horizontal", "interpolate": "monotone"},
          "encoding": {
            "x": {"field": "a", "type": "quantitative", "scale": {"domain": [-29.5, 30], "range": [184, 240], "nice": false, "zero": false}, "axis": null},
            "x2": {"field": "b"},
            "y": {"field": "e", "type": "quantitative", "scale": {"domain": [0, 250], "range": [235, 11], "nice": false}, "axis": null},
            "fill": {"field": "l", "type": "nominal", "legend": null}
          }
        },
        {"data": {"name": "speck"}, "transform": [{"filter": "datum.p == 'C'"}], "mark": {"type": "circle", "size": 3, "color": "#9030d0"}, "encoding": {"x": {"field": "a", "type": "quantitative", "axis": null}, "y": {"field": "e", "type": "quantitative", "axis": null}}},
        {"data": {"name": "tags"}, "transform": [{"filter": "datum.p == 'C'"}], "mark": {"type": "text", "fontSize": 14, "color": "#222"}, "encoding": {"x": {"field": "a", "type": "quantitative", "axis": null}, "y": {"field": "e", "type": "quantitative", "axis": null}, "text": {"field": "t"}}}
      ]
    },
    {
      "mark": {"type": "rect", "fill": null, "stroke": "#222", "strokeWidth": 1.2},
      "encoding": {
        "x": {"datum": -29.5, "type": "quantitative", "scale": {"domain": [-29.5, 30], "range": [184, 240], "nice": false, "zero": false}, "axis": {"orient": "bottom", "offset": -305, "values": [-25, 0, 25], "title": "Angle (deg)"}},
        "x2": {"datum": 30},
        "y": {"datum": 0, "type": "quantitative", "scale": {"domain": [0, 250], "range": [235, 11], "nice": false}, "axis": {"orient": "left", "offset": -184, "values": [0, 50, 100, 150, 200, 250], "labels": false, "title": null}},
        "y2": {"datum": 250}
      }
    },
    {
      "layer": [
        {
          "data": {"name": "iead"},
          "transform": [{"filter": "datum.p == 'D'"}],
          "mark": {"type": "area", "orient": "horizontal", "interpolate": "monotone"},
          "encoding": {
            "x": {"field": "a", "type": "quantitative", "scale": {"domain": [-29.5, 30], "range": [50, 106], "nice": false, "zero": false}, "axis": null},
            "x2": {"field": "b"},
            "y": {"field": "e", "type": "quantitative", "scale": {"domain": [0, 250], "range": [492, 268], "nice": false}, "axis": null},
            "fill": {"field": "l", "type": "nominal", "legend": null}
          }
        },
        {"data": {"name": "speck"}, "transform": [{"filter": "datum.p == 'D'"}], "mark": {"type": "circle", "size": 3, "color": "#9030d0"}, "encoding": {"x": {"field": "a", "type": "quantitative", "axis": null}, "y": {"field": "e", "type": "quantitative", "axis": null}}},
        {"data": {"name": "tags"}, "transform": [{"filter": "datum.p == 'D'"}], "mark": {"type": "text", "fontSize": 17, "color": "#222"}, "encoding": {"x": {"field": "a", "type": "quantitative", "axis": null}, "y": {"field": "e", "type": "quantitative", "axis": null}, "text": {"field": "t"}}},
        {"data": {"values": [{"t": "AVS2007_Natalie_17", "a": -70, "e": -44}]}, "mark": {"type": "text", "align": "left", "fontSize": 9.5, "color": "#222"}, "encoding": {"x": {"field": "a", "type": "quantitative", "axis": null}, "y": {"field": "e", "type": "quantitative", "axis": null}, "text": {"field": "t"}}}
      ]
    },
    {
      "mark": {"type": "rect", "fill": null, "stroke": "#222", "strokeWidth": 1.2},
      "encoding": {
        "x": {"datum": -29.5, "type": "quantitative", "scale": {"domain": [-29.5, 30], "range": [50, 106], "nice": false, "zero": false}, "axis": {"orient": "bottom", "offset": -48, "values": [-25, 0, 25], "title": "Angle (deg)"}},
        "x2": {"datum": 30},
        "y": {"datum": 0, "type": "quantitative", "scale": {"domain": [0, 250], "range": [492, 268], "nice": false}, "axis": {"orient": "left", "offset": -50, "values": [0, 50, 100, 150, 200, 250], "title": "Energy (eV)", "titlePadding": 0}},
        "y2": {"datum": 250}
      }
    },
    {
      "layer": [
        {
          "data": {"name": "iead"},
          "transform": [{"filter": "datum.p == 'E'"}],
          "mark": {"type": "area", "orient": "horizontal", "interpolate": "monotone"},
          "encoding": {
            "x": {"field": "a", "type": "quantitative", "scale": {"domain": [-29.5, 30], "range": [121, 177.5], "nice": false, "zero": false}, "axis": null},
            "x2": {"field": "b"},
            "y": {"field": "e", "type": "quantitative", "scale": {"domain": [0, 250], "range": [492, 268], "nice": false}, "axis": null},
            "fill": {"field": "l", "type": "nominal", "legend": null}
          }
        },
        {"data": {"name": "speck"}, "transform": [{"filter": "datum.p == 'E'"}], "mark": {"type": "circle", "size": 3, "color": "#9030d0"}, "encoding": {"x": {"field": "a", "type": "quantitative", "axis": null}, "y": {"field": "e", "type": "quantitative", "axis": null}}},
        {"data": {"name": "tags"}, "transform": [{"filter": "datum.p == 'E'"}], "mark": {"type": "text", "fontSize": 17, "color": "#222"}, "encoding": {"x": {"field": "a", "type": "quantitative", "axis": null}, "y": {"field": "e", "type": "quantitative", "axis": null}, "text": {"field": "t"}}}
      ]
    },
    {
      "mark": {"type": "rect", "fill": null, "stroke": "#222", "strokeWidth": 1.2},
      "encoding": {
        "x": {"datum": -29.5, "type": "quantitative", "scale": {"domain": [-29.5, 30], "range": [121, 177.5], "nice": false, "zero": false}, "axis": {"orient": "bottom", "offset": -48, "values": [-25, 0, 25], "title": "Angle (deg)"}},
        "x2": {"datum": 30},
        "y": {"datum": 0, "type": "quantitative", "scale": {"domain": [0, 250], "range": [492, 268], "nice": false}, "axis": {"orient": "left", "offset": -121, "values": [0, 50, 100, 150, 200, 250], "labels": false, "title": null}},
        "y2": {"datum": 250}
      }
    },
    {
      "layer": [
        {
          "data": {"name": "iead"},
          "transform": [{"filter": "datum.p == 'F'"}],
          "mark": {"type": "area", "orient": "horizontal", "interpolate": "monotone"},
          "encoding": {
            "x": {"field": "a", "type": "quantitative", "scale": {"domain": [-29.5, 30], "range": [192, 248.5], "nice": false, "zero": false}, "axis": null},
            "x2": {"field": "b"},
            "y": {"field": "e", "type": "quantitative", "scale": {"domain": [0, 250], "range": [492, 268], "nice": false}, "axis": null},
            "fill": {"field": "l", "type": "nominal", "legend": null}
          }
        },
        {"data": {"name": "speck"}, "transform": [{"filter": "datum.p == 'F'"}], "mark": {"type": "circle", "size": 3, "color": "#9030d0"}, "encoding": {"x": {"field": "a", "type": "quantitative", "axis": null}, "y": {"field": "e", "type": "quantitative", "axis": null}}},
        {"data": {"name": "tags"}, "transform": [{"filter": "datum.p == 'F'"}], "mark": {"type": "text", "fontSize": 17, "color": "#222"}, "encoding": {"x": {"field": "a", "type": "quantitative", "axis": null}, "y": {"field": "e", "type": "quantitative", "axis": null}, "text": {"field": "t"}}}
      ]
    },
    {
      "mark": {"type": "rect", "fill": null, "stroke": "#222", "strokeWidth": 1.2},
      "encoding": {
        "x": {"datum": -29.5, "type": "quantitative", "scale": {"domain": [-29.5, 30], "range": [192, 248.5], "nice": false, "zero": false}, "axis": {"orient": "bottom", "offset": -48, "values": [-25, 0, 25], "title": "Angle (deg)"}},
        "x2": {"datum": 30},
        "y": {"datum": 0, "type": "quantitative", "scale": {"domain": [0, 250], "range": [492, 268], "nice": false}, "axis": {"orient": "left", "offset": -192, "values": [0, 50, 100, 150, 200, 250], "labels": false, "title": null}},
        "y2": {"datum": 250}
      }
    },
    {
      "layer": [
        {
          "data": {"name": "bands"},
          "transform": [{"filter": "datum.p == 'T'"}],
          "mark": {"type": "area", "interpolate": "monotone"},
          "encoding": {
            "x": {"field": "r", "type": "quantitative", "scale": {"domain": [9.752, 10.057], "range": [282, 462], "nice": false, "zero": false}, "axis": null},
            "y": {"field": "h", "type": "quantitative", "scale": {"domain": [1.871, 2.14], "range": [233, 77], "nice": false, "zero": false}, "axis": null},
            "y2": {"datum": 1.871},
            "color": {"field": "b", "type": "nominal", "legend": null, "scale": {"domain": ["a", "b", "c", "d", "e", "f", "g", "h", "i", "j", "k", "l", "m", "n", "o", "p"], "range": ["#f80000", "#a80808", "#b06018", "#5a3010", "#e8e000", "#a0a000", "#00d000", "#008800", "#20e8e0", "#0a8088", "#0000c8", "#e820e0", "#f8a0f0", "#fcdcf8", "#fbe8fb", "#ffffff"]}}
          }
        },
        {"data": {"name": "electrode"}, "transform": [{"filter": "datum.p == 'T'"}], "mark": {"type": "rule", "color": "#111", "strokeWidth": 1.1}, "encoding": {"x": {"field": "r", "type": "quantitative", "axis": null}, "x2": {"field": "r2"}, "y": {"field": "h", "type": "quantitative", "axis": null}, "y2": {"field": "h2"}}},
        {"data": {"name": "regions"}, "transform": [{"filter": "datum.p == 'T'"}], "mark": {"type": "text", "fontSize": 16, "fontWeight": "bold"}, "encoding": {"x": {"field": "r", "type": "quantitative", "axis": null}, "y": {"field": "h", "type": "quantitative", "axis": null}, "text": {"field": "t"}, "color": {"condition": {"test": "datum.t == '1' || datum.t == '9'", "value": "white"}, "value": "#111"}}},
        {"mark": {"type": "rect", "fill": "white", "stroke": null}, "encoding": {"x": {"datum": 9.946, "axis": null}, "x2": {"datum": 10.033}, "y": {"datum": 2.107, "axis": null}, "y2": {"datum": 2.127}}},
        {"data": {"values": [{"t": "Potential", "r": 9.989, "h": 2.117}]}, "mark": {"type": "text", "fontSize": 13, "color": "#111"}, "encoding": {"x": {"field": "r", "type": "quantitative", "axis": null}, "y": {"field": "h", "type": "quantitative", "axis": null}, "text": {"field": "t"}}},
        {"data": {"name": "rules"}, "mark": {"type": "rule", "color": "#111", "strokeWidth": 3}, "encoding": {"x": {"field": "r", "type": "quantitative", "axis": null}, "x2": {"field": "r2"}, "y": {"field": "h", "type": "quantitative", "axis": null}}},
        {"data": {"name": "notes"}, "transform": [{"filter": "datum.g == 'small'"}], "mark": {"type": "text", "align": "left", "fontSize": 17.5, "fontWeight": "bold", "color": "#111"}, "encoding": {"x": {"field": "r", "type": "quantitative", "axis": null}, "y": {"field": "h", "type": "quantitative", "axis": null}, "text": {"field": "t"}}},
        {"data": {"name": "notes"}, "transform": [{"filter": "datum.g == 'sup'"}], "mark": {"type": "text", "align": "left", "fontSize": 11.5, "fontWeight": "bold", "color": "#111"}, "encoding": {"x": {"field": "r", "type": "quantitative", "axis": null}, "y": {"field": "h", "type": "quantitative", "axis": null}, "text": {"field": "t"}}},
        {"data": {"name": "notes"}, "transform": [{"filter": "datum.g == 'mid'"}], "mark": {"type": "text", "align": "left", "fontSize": 17.7, "fontWeight": "bold", "color": "#111"}, "encoding": {"x": {"field": "r", "type": "quantitative", "axis": null}, "y": {"field": "h", "type": "quantitative", "axis": null}, "text": {"field": "t"}}},
        {"data": {"name": "notes"}, "transform": [{"filter": "datum.g == 'msup'"}], "mark": {"type": "text", "align": "left", "fontSize": 11.5, "fontWeight": "bold", "color": "#111"}, "encoding": {"x": {"field": "r", "type": "quantitative", "axis": null}, "y": {"field": "h", "type": "quantitative", "axis": null}, "text": {"field": "t"}}},
        {"data": {"name": "notes"}, "transform": [{"filter": "datum.g == 'title'"}], "mark": {"type": "text", "align": "center", "fontSize": 24.8, "color": "#111"}, "encoding": {"x": {"field": "r", "type": "quantitative", "axis": null}, "y": {"field": "h", "type": "quantitative", "axis": null}, "text": {"field": "t"}}},
        {"data": {"name": "notes"}, "transform": [{"filter": "datum.g == 'body'"}], "mark": {"type": "text", "align": "left", "fontSize": 20, "fontWeight": "bold", "color": "#111"}, "encoding": {"x": {"field": "r", "type": "quantitative", "axis": null}, "y": {"field": "h", "type": "quantitative", "axis": null}, "text": {"field": "t"}}},
        {"data": {"name": "notes"}, "transform": [{"filter": "datum.g == 'foot'"}], "mark": {"type": "text", "align": "center", "fontSize": 17, "color": "#111"}, "encoding": {"x": {"field": "r", "type": "quantitative", "axis": null}, "y": {"field": "h", "type": "quantitative", "axis": null}, "text": {"field": "t"}}}
      ]
    },
    {
      "mark": {"type": "rect", "fill": null, "stroke": "#555", "strokeWidth": 1.2},
      "encoding": {
        "x": {"datum": 9.752, "type": "quantitative", "scale": {"domain": [9.752, 10.057], "range": [282, 462], "nice": false, "zero": false}, "axis": {"orient": "bottom", "offset": -307, "values": [9.8, 9.9, 10], "format": ".2f", "title": "Radius (cm)", "labelFontSize": 10.5, "titleFontSize": 13.5}},
        "x2": {"datum": 10.057},
        "y": {"datum": 1.871, "type": "quantitative", "scale": {"domain": [1.871, 2.14], "range": [233, 77], "nice": false, "zero": false}, "axis": {"orient": "left", "offset": -282, "values": [1.9, 2, 2.1], "format": ".1f", "title": "Height (cm)", "labelFontSize": 10.5, "titleFontSize": 13.5, "titlePadding": 4}},
        "y2": {"datum": 2.14}
      }
    },
    {
      "layer": [
        {
          "data": {"name": "bands"},
          "transform": [{"filter": "datum.p == 'B'"}],
          "mark": {"type": "area", "interpolate": "monotone"},
          "encoding": {
            "x": {"field": "r", "type": "quantitative", "scale": {"domain": [9.752, 10.057], "range": [282, 462], "nice": false, "zero": false}, "axis": null},
            "y": {"field": "h", "type": "quantitative", "scale": {"domain": [1.869, 2.141], "range": [477, 319], "nice": false, "zero": false}, "axis": null},
            "y2": {"datum": 1.869},
            "color": {"field": "b", "type": "nominal", "legend": null}
          }
        },
        {"data": {"name": "electrode"}, "transform": [{"filter": "datum.p == 'B'"}], "mark": {"type": "rule", "color": "#222", "strokeWidth": 1.1}, "encoding": {"x": {"field": "r", "type": "quantitative", "axis": null}, "x2": {"field": "r2"}, "y": {"field": "h", "type": "quantitative", "axis": null}, "y2": {"field": "h2"}}},
        {"data": {"name": "regions"}, "transform": [{"filter": "datum.p == 'B'"}], "mark": {"type": "text", "fontSize": 16, "fontWeight": "bold", "color": "#111"}, "encoding": {"x": {"field": "r", "type": "quantitative", "axis": null}, "y": {"field": "h", "type": "quantitative", "axis": null}, "text": {"field": "t"}}},
        {"mark": {"type": "rect", "fill": "white", "stroke": null}, "encoding": {"x": {"datum": 9.95, "axis": null}, "x2": {"datum": 10.04}, "y": {"datum": 2.108, "axis": null}, "y2": {"datum": 2.13}}},
        {"data": {"values": [{"t": "Potential", "r": 9.995, "h": 2.119}]}, "mark": {"type": "text", "fontSize": 13, "color": "#111"}, "encoding": {"x": {"field": "r", "type": "quantitative", "axis": null}, "y": {"field": "h", "type": "quantitative", "axis": null}, "text": {"field": "t"}}}
      ]
    },
    {
      "mark": {"type": "rect", "fill": null, "stroke": "#555", "strokeWidth": 1.2},
      "encoding": {
        "x": {"datum": 9.752, "type": "quantitative", "scale": {"domain": [9.752, 10.057], "range": [282, 462], "nice": false, "zero": false}, "axis": {"orient": "bottom", "offset": -63, "values": [9.8, 9.9, 10], "format": ".2f", "title": "Radius (cm)", "labelFontSize": 10.5, "titleFontSize": 13.5}},
        "x2": {"datum": 10.057},
        "y": {"datum": 1.869, "type": "quantitative", "scale": {"domain": [1.869, 2.141], "range": [477, 319], "nice": false, "zero": false}, "axis": {"orient": "left", "offset": -282, "values": [1.9, 2, 2.1], "format": ".1f", "title": "Height (cm)", "labelFontSize": 10.5, "titleFontSize": 13.5, "titlePadding": 4}},
        "y2": {"datum": 2.141}
      }
    },
    {
      "layer": [
        {
          "mark": {"type": "rect", "fill": {"gradient": "linear", "x1": 0, "y1": 0, "x2": 1, "y2": 0, "stops": [{"offset": 0, "color": "#f6f0f8"}, {"offset": 0.118, "color": "#f4eef6"}, {"offset": 0.12, "color": "#f0d8e8"}, {"offset": 0.235, "color": "#c060a8"}, {"offset": 0.24, "color": "#303090"}, {"offset": 0.37, "color": "#283090"}, {"offset": 0.372, "color": "#1898a0"}, {"offset": 0.5, "color": "#80c8c8"}, {"offset": 0.505, "color": "#309848"}, {"offset": 0.63, "color": "#50a850"}, {"offset": 0.635, "color": "#808020"}, {"offset": 0.76, "color": "#e8e810"}, {"offset": 0.765, "color": "#704020"}, {"offset": 0.89, "color": "#c06820"}, {"offset": 0.892, "color": "#802020"}, {"offset": 1, "color": "#c82820"}]}},
          "encoding": {
            "x": {"datum": 0, "type": "quantitative", "scale": {"domain": [0, 1], "range": [503.5, 656], "nice": false}, "axis": null},
            "x2": {"datum": 1},
            "y": {"datum": 0, "type": "quantitative", "scale": {"domain": [0, 1], "range": [391, 378], "nice": false}, "axis": null},
            "y2": {"datum": 1}
          }
        },
        {"data": {"name": "strip"}, "mark": {"type": "text", "fontSize": 16, "color": "#111"}, "encoding": {"x": {"field": "s", "type": "quantitative", "axis": null}, "y": {"field": "v", "type": "quantitative", "axis": null}, "text": {"field": "t"}}}
      ]
    }
  ]
}
